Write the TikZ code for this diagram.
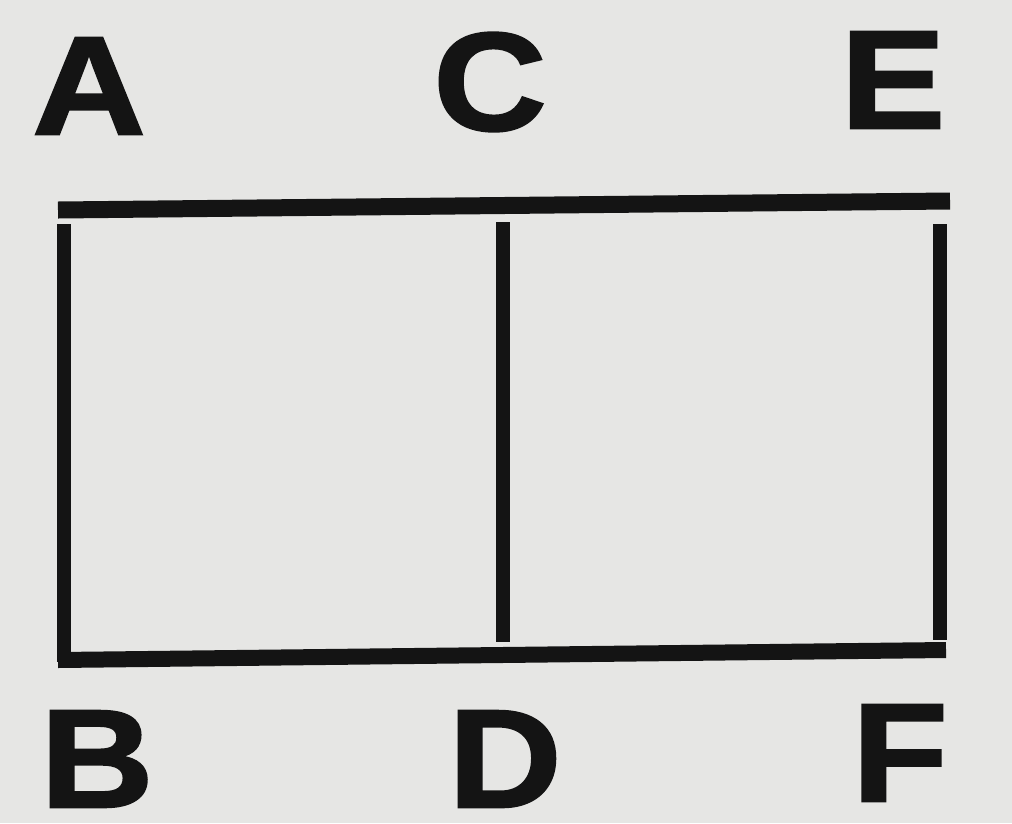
\documentclass[tikz,border=0pt]{standalone}
\usepackage{fontspec}
\setmainfont{Liberation Sans}
\newfontfamily\heavyfont{Liberation Sans}[BoldFeatures={FakeBold=1.6}]
\definecolor{paper}{HTML}{E6E6E4}
\definecolor{ink}{HTML}{141414}
\begin{document}
\begin{tikzpicture}[x=1pt,y=-1pt,
  bar/.style={draw=ink,line width=16pt,line cap=butt},
  lbl/.style={text=ink,font=\heavyfont\fontsize{140}{140}\bfseries\selectfont,inner sep=0pt,anchor=center,xscale=1.12}]
\fill[paper] (0,0) rectangle (1012,823);
\useasboundingbox (0,0) rectangle (1012,823);
\coordinate (tl) at (58,210);
\coordinate (tr) at (950,201);
\coordinate (bl) at (58,660);
\coordinate (br) at (946,650);
\coordinate (l1) at (64,224);
\coordinate (l2) at (64,662);
\coordinate (m1) at (503,222);
\coordinate (m2) at (503,642);
\coordinate (r1) at (940,224);
\coordinate (r2) at (940,640);
\draw[bar,line width=17pt] (tl) -- (tr);
\draw[bar] (bl) -- (br);
\draw[bar,line width=14pt] (l1) -- (l2);
\draw[bar,line width=14pt] (m1) -- (m2);
\draw[bar,line width=14pt] (r1) -- (r2);
\node[lbl] (A) at (89,86) {A};
\node[lbl] (C) at (490,82) {C};
\node[lbl] (E) at (893,80) {E};
\node[lbl] (B) at (97,759) {B};
\node[lbl] (D) at (505,759) {D};
\node[lbl] (F) at (900,753) {F};
\end{tikzpicture}
\end{document}
